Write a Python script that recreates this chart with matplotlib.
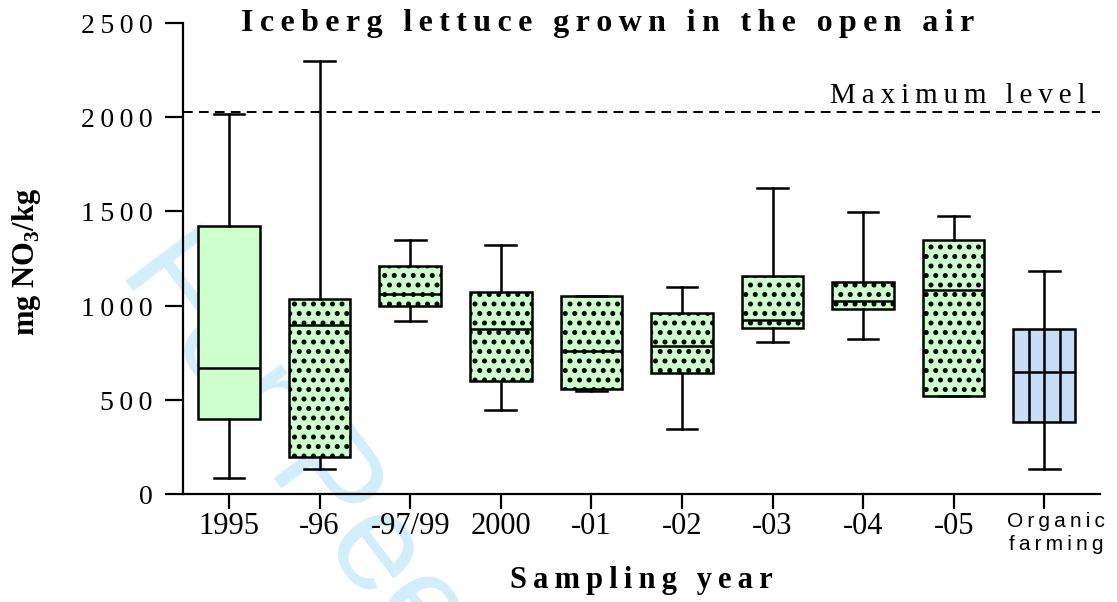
import matplotlib
matplotlib.use('Agg')
import matplotlib.pyplot as plt

# values (mg NO3/kg)
categories = ['1995', '-96', '-97/99', '2000', '-01', '-02', '-03', '-04', '-05', 'Organic\nfarming']
whis_lo = [85, 134, 921, 447, 547, 345, 810, 823, 520, 136]
q1 = [398, 198, 998, 598, 557, 645, 884, 985, 520, 385]
median = [672, 897, 1062, 874, 759, 785, 925, 1026, 1084, 648]
q3 = [1424, 1038, 1212, 1074, 1049, 959, 1160, 1125, 1348, 876]
whis_hi = [2018, 2300, 1348, 1323, 1049, 1097, 1626, 1497, 1476, 1185]
max_level = 2025
yticks = [0, 500, 1000, 1500, 2000, 2500]

GREEN = '#ccffcc'
BLUE = '#c8dcf6'
fills = [GREEN] * 9 + [BLUE]
hatches = [''] + ['..'] * 8 + ['']

TS = '\u2009'

# dpi 114 makes the '..' hatch pitch close to the reference dot grid;
# K converts sizes tuned at 100 dpi
DPI = 114
K = 100 / DPI


def track(s):
    return TS.join(s)


plt.rcParams['hatch.linewidth'] = 2.2 * K
plt.rcParams['hatch.color'] = 'black'
plt.rcParams['mathtext.fontset'] = 'custom'
plt.rcParams['mathtext.rm'] = 'Liberation Serif:bold'

fig = plt.figure(figsize=(1117.4 / DPI, 602.4 / DPI), dpi=DPI)
ax = fig.add_axes([0.1638, 0.1789, 0.8210, 0.7824])

# faint watermark behind the axes
fig.text(0.105, 0.55, 'For Peer Review', color='#d3eefb', fontsize=100 * K,
         family='Liberation Sans', rotation=-53, rotation_mode='anchor',
         ha='left', va='baseline', zorder=-1)
ax.patch.set_alpha(0)

stats = []
for i in range(len(categories)):
    stats.append({'whislo': whis_lo[i], 'q1': q1[i], 'med': median[i],
                  'q3': q3[i], 'whishi': whis_hi[i], 'fliers': []})

positions = list(range(1, len(categories) + 1))
w = 0.68
lw = 1.8 * K
bp = ax.bxp(stats, positions=positions, widths=w, patch_artist=True,
            showfliers=False,
            boxprops=dict(edgecolor='black', linewidth=lw),
            medianprops=dict(color='black', linewidth=lw),
            whiskerprops=dict(color='black', linewidth=lw),
            capprops=dict(color='black', linewidth=lw),
            capwidths=w / 2)
for box, fc, h in zip(bp['boxes'], fills, hatches):
    box.set_facecolor(fc)
    box.set_hatch(h)

# organic box: vertical dividers
p = positions[-1]
ax.vlines([p - w / 4, p, p + w / 4], q1[-1], q3[-1], color='black', linewidth=lw, zorder=3)

ax.axhline(max_level, color='black', linewidth=1.4 * K, dashes=(5, 3.2))
ax.text(10.46, max_level + 20, track('Maximum level'), family='Liberation Serif',
        fontsize=21 * K, ha='right', va='bottom')

ax.set_xlim(0.492, 10.62)
ax.set_ylim(0, 2500)
ax.set_yticks(yticks)
ax.set_yticklabels([track(str(t)) for t in yticks], family='Liberation Serif', fontsize=20 * K)
ax.set_xticks(positions)
ax.set_xticklabels(categories[:-1] + [''], family='Liberation Serif', fontsize=22 * K)
ax.text(positions[-1] + 0.13, -92, track('Organic') + '\n' + track('farming'),
        family='Liberation Sans', fontsize=15 * K, ha='center', va='top', linespacing=1.3)

for s in ['top', 'right']:
    ax.spines[s].set_visible(False)
for s in ['left', 'bottom']:
    ax.spines[s].set_linewidth(1.6 * K)
ax.tick_params(axis='y', length=13 * K, width=1.6 * K, pad=9 * K)
ax.tick_params(axis='x', length=10.5 * K, width=1.6 * K, pad=2 * K)

ax.set_xlabel(track('Sampling year'), family='Liberation Serif', fontweight='bold',
              fontsize=22 * K, labelpad=18 * K)
fig.text(0.024, 0.565, r'mg NO$_3$/kg', family='Liberation Serif', fontweight='bold',
         fontsize=22 * K, rotation=90, ha='center', va='center')
fig.text(0.5436, 0.985, track('Iceberg lettuce grown in the open air'),
         family='Liberation Serif', fontweight='bold', fontsize=23 * K, ha='center', va='top')

fig.savefig('out.png', dpi=DPI)
